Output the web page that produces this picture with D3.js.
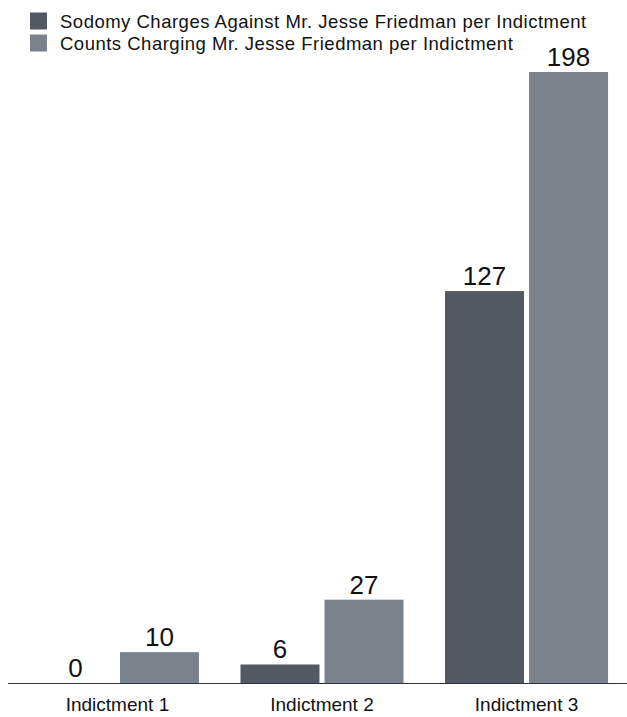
<!DOCTYPE html>
<html>
<head>
<meta charset="utf-8">
<script src="https://cdn.jsdelivr.net/npm/d3@7"></script>
<style>
  body { margin: 0; background: #fff; }
  text { font-family: "Liberation Sans", Arial, Helvetica, sans-serif; fill: #111; }
</style>
</head>
<body>
<div id="canvas"></div>
<script>
var categories = ["Indictment 1", "Indictment 2", "Indictment 3"];
var seriesNames = ["Sodomy Charges Against Mr. Jesse Friedman per Indictment",
                   "Counts Charging Mr. Jesse Friedman per Indictment"];
var sodomy = [0, 6, 127];
var counts = [10, 27, 198];
var colors = ["#535962", "#7a828c"];

var width = 627, height = 717;
var baseline = 683;

var svg = d3.select("#canvas").append("svg")
    .attr("width", width)
    .attr("height", height);

var x = d3.scaleBand()
    .domain(categories)
    .range([15.5, 628.5])
    .paddingInner(0.203)
    .paddingOuter(0.1);

var inner = d3.scaleBand()
    .domain([0, 1])
    .range([0, x.bandwidth()])
    .paddingInner(0.06);

var y = d3.scaleLinear()
    .domain([0, 198])
    .range([baseline, 72]);

var rows = categories.map(function(c, i) {
    return { cat: c, values: [sodomy[i], counts[i]] };
});

var group = svg.selectAll("g.grp")
    .data(rows)
    .enter()
    .append("g")
    .attr("class", "grp")
    .attr("transform", d => "translate(" + x(d.cat) + ",0)");

var cell = group.selectAll("g.cell")
    .data(d => d.values.map((v, k) => ({ k: k, v: v })))
    .enter()
    .append("g")
    .attr("class", "cell");

cell.append("rect")
    .attr("x", d => inner(d.k))
    .attr("y", d => y(d.v))
    .attr("width", inner.bandwidth())
    .attr("height", d => baseline - y(d.v))
    .attr("fill", d => colors[d.k]);

cell.append("text")
    .attr("x", d => inner(d.k) + inner.bandwidth() / 2)
    .attr("y", d => y(d.v) - 6)
    .attr("text-anchor", "middle")
    .style("font-size", "26px")
    .text(d => d.v);

// baseline axis
svg.append("line")
    .attr("x1", 8).attr("x2", width)
    .attr("y1", baseline + 0.5).attr("y2", baseline + 0.5)
    .attr("stroke", "#333")
    .attr("stroke-width", 1);

svg.selectAll("text.cat")
    .data(categories)
    .enter()
    .append("text")
    .attr("class", "cat")
    .attr("x", d => x(d) + x.bandwidth() / 2)
    .attr("y", 711)
    .attr("text-anchor", "middle")
    .style("font-size", "19px")
    .text(d => d);

// legend
var legend = svg.selectAll("g.leg")
    .data(seriesNames)
    .enter()
    .append("g")
    .attr("class", "leg")
    .attr("transform", (d, i) => "translate(30," + (12.5 + i * 22) + ")");

legend.append("rect")
    .attr("width", 17)
    .attr("height", 17)
    .attr("fill", (d, i) => colors[i]);

legend.append("text")
    .attr("x", 30)
    .attr("y", 15.5)
    .style("font-size", "18.5px")
    .style("letter-spacing", "0.5px")
    .text(d => d);
</script>
</body>
</html>
